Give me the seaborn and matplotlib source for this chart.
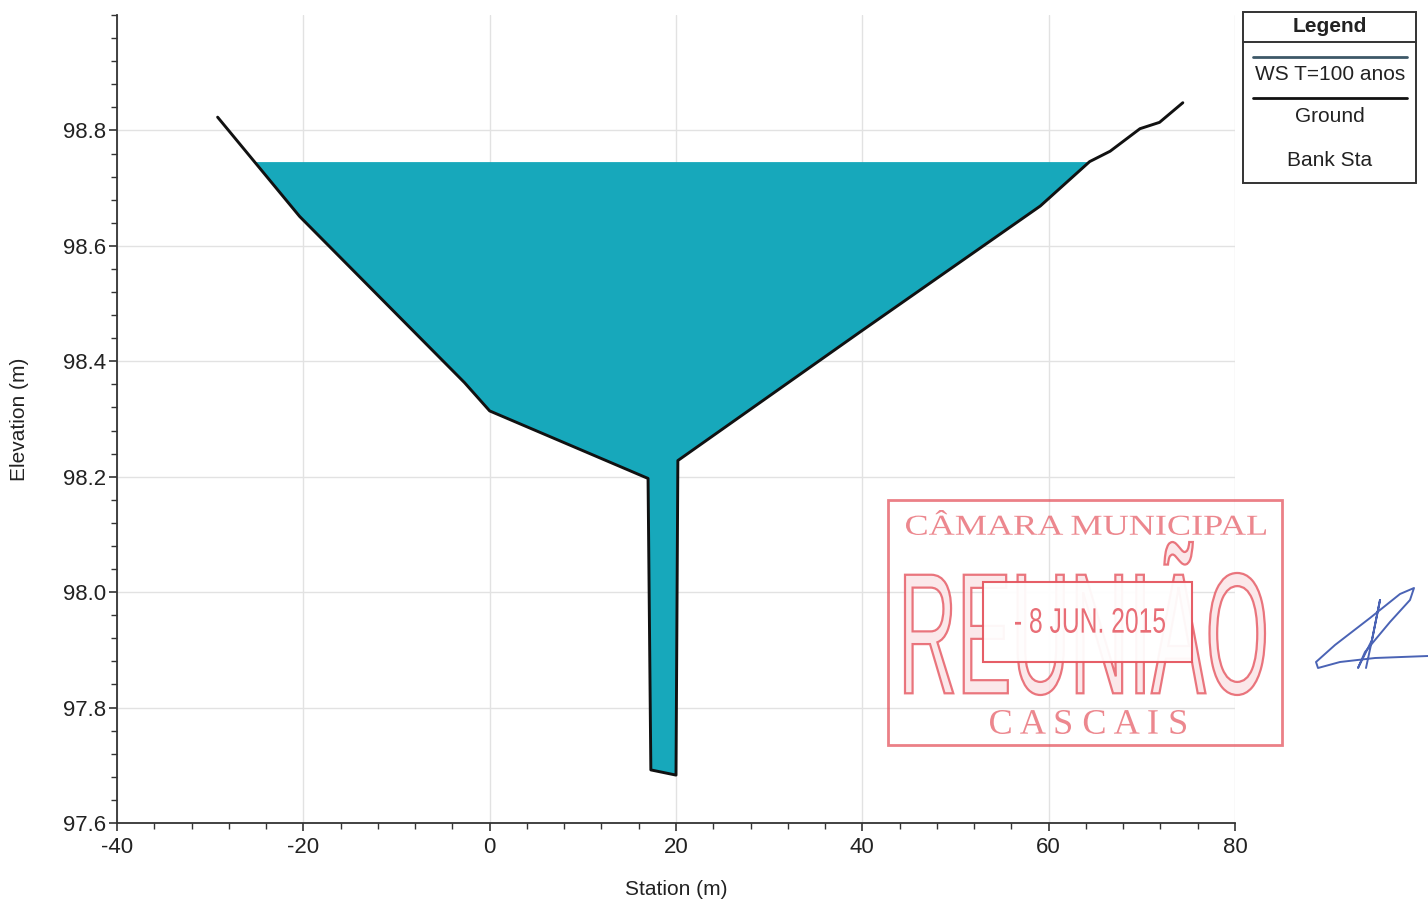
import numpy as np
import pandas as pd
import seaborn as sns
import matplotlib.pyplot as plt
from matplotlib.patches import Rectangle, PathPatch
from matplotlib.textpath import TextPath
from matplotlib.font_manager import FontProperties
from matplotlib.lines import Line2D
from matplotlib.transforms import Affine2D, IdentityTransform
from matplotlib.ticker import MultipleLocator, FormatStrFormatter

# ground profile
station = [-29.2, -20.4, -2.7, 0.0, 17.0, 17.3, 20.0, 20.2, 39.6, 59.1, 64.4, 66.6, 69.8, 71.9, 74.4]
elevation = [98.823, 98.651, 98.363, 98.314, 98.197, 97.692, 97.683, 98.228, 98.449, 98.669,
             98.746, 98.764, 98.803, 98.814, 98.848]
ws_elev = 98.746
legend_items = ['WS T=100 anos', 'Ground', 'Bank Sta']
y_ticks = [97.6, 97.8, 98.0, 98.2, 98.4, 98.6, 98.8]

water_col = '#17a8bb'
stamp_col = '#e5555f'

sns.set_style('white')
plt.rcParams['font.family'] = ['Liberation Sans', 'DejaVu Sans']
plt.rcParams['axes.unicode_minus'] = False

df = pd.DataFrame({'station': station, 'elevation': elevation})

fig = plt.figure(figsize=(14.28, 9.01), dpi=100)
ax = fig.add_axes([117 / 1428, 78 / 901, 1118 / 1428, 808 / 901])

x = np.array(station)
g = np.array(elevation)
ax.fill_between(x, g, ws_elev, where=g <= ws_elev, interpolate=True,
                color=water_col, lw=0, zorder=2)
sns.lineplot(data=df, x='station', y='elevation', sort=False, estimator=None,
             color='#111111', lw=2.1, ax=ax, zorder=3)

ax.xaxis.set_major_locator(MultipleLocator(20))
ax.xaxis.set_minor_locator(MultipleLocator(4))
ax.set_yticks(y_ticks)
ax.yaxis.set_minor_locator(MultipleLocator(0.04))
ax.yaxis.set_major_formatter(FormatStrFormatter('%.1f'))
ax.set_xlim(-40, 80)
ax.set_ylim(97.6, 99.0)

ax.grid(True, which='major', color='#e2e2e2', lw=1.0, zorder=0)
for s in ['top', 'right']:
    ax.spines[s].set_visible(False)
for s in ['left', 'bottom']:
    ax.spines[s].set_color('#333333')
    ax.spines[s].set_linewidth(1.3)
ax.tick_params(which='both', direction='out', color='#333333', labelsize=16,
               labelcolor='#222222', left=True, bottom=True)
ax.tick_params(which='major', length=6, width=1.2)
ax.tick_params(which='minor', length=4, width=1.0)
ax.tick_params(axis='x', pad=4)
ax.tick_params(axis='y', pad=2)
ax.set_xlabel('Station (m)', fontsize=15, color='#222222', labelpad=16)
ax.set_ylabel('Elevation (m)', fontsize=15, color='#222222', labelpad=24)

# legend box drawn as in the original software
fx = lambda px: px / 1428
fy = lambda py: 1 - py / 901
fig.add_artist(Rectangle((fx(1243), fy(183)), fx(1416) - fx(1243), fy(12) - fy(183),
                         transform=fig.transFigure, fill=False, ec='#333333', lw=1.4))
fig.add_artist(Line2D([fx(1243), fx(1416)], [fy(42), fy(42)], transform=fig.transFigure,
                      color='#333333', lw=1.4))
fig.text(fx(1330), fy(26), 'Legend', ha='center', va='center', fontsize=15, weight='bold', color='#222222')
fig.add_artist(Line2D([fx(1253), fx(1407)], [fy(57), fy(57)], transform=fig.transFigure,
                      color='#3d5868', lw=2))
fig.text(fx(1330), fy(75), legend_items[0], ha='center', va='center', fontsize=15, color='#222222')
fig.add_artist(Line2D([fx(1253), fx(1407)], [fy(98), fy(98)], transform=fig.transFigure,
                      color='#111111', lw=2))
fig.text(fx(1330), fy(117), legend_items[1], ha='center', va='center', fontsize=15, color='#222222')
fig.text(fx(1330), fy(160), legend_items[2], ha='center', va='center', fontsize=15, color='#222222')


# stamp (pixel coordinates, origin top-left)
def fit_text(txt, x0, y0, x1, y1, family, **kw):
    tp = TextPath((0, 0), txt, size=100, prop=FontProperties(family=family))
    bb = tp.get_extents()
    sx = (x1 - x0) / bb.width
    sy = (y1 - y0) / bb.height
    tr = Affine2D().translate(-bb.x0, -bb.y0).scale(sx, sy).translate(x0, 901 - y1)
    p = PathPatch(tr.transform_path(tp), transform=IdentityTransform(), **kw)
    fig.add_artist(p)


fig.add_artist(Rectangle((888, 901 - 745), 394, 245, transform=IdentityTransform(),
                         fill=False, ec=stamp_col, lw=2, alpha=0.75))
fit_text('REUNIÃO', 905, 542, 1265, 695, 'Liberation Sans',
         fc='#fbe3e5', ec=stamp_col, lw=1.6, alpha=0.8)
fig.add_artist(Rectangle((983, 901 - 662), 209, 80, transform=IdentityTransform(),
                         fc='white', ec=stamp_col, lw=1.5, alpha=0.95))
fit_text('- 8 JUN. 2015', 1015, 608, 1165, 633, 'Liberation Sans',
         fc=stamp_col, ec='none', alpha=0.85)
fit_text('CÂMARA MUNICIPAL', 906, 510, 1266, 535, 'Liberation Serif',
         fc=stamp_col, ec='none', alpha=0.7)
fit_text('C A S C A I S', 990, 710, 1186, 734, 'Liberation Serif',
         fc=stamp_col, ec='none', alpha=0.7)

# signature scribble
sig_x = [1428, 1375, 1340, 1318, 1316, 1335, 1370, 1400, 1414, 1410, 1390, 1365, 1358, 1372,
         1380, 1372, 1366]
sig_y = [656, 658, 662, 668, 662, 645, 618, 594, 588, 600, 622, 652, 668, 640, 600, 640, 668]
fig.add_artist(Line2D(sig_x, [901 - v for v in sig_y], transform=IdentityTransform(),
                      color='#4a63b5', lw=1.4))

fig.savefig('out.png', dpi=100)
